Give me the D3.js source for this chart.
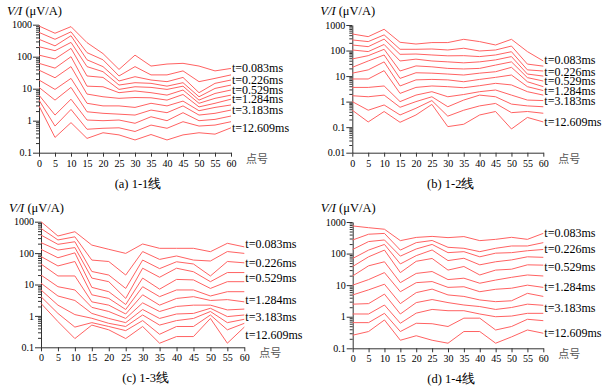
<!DOCTYPE html>
<html lang="zh">
<head>
<meta charset="UTF-8">
<script src="https://d3js.org/d3.v7.min.js"></script>
<style>
  body { margin: 0; background: #fff; }
  text { font-family: "Liberation Serif", "Times New Roman", serif; }
  .cjk { font-family: "Noto Sans CJK SC", sans-serif; }
</style>
</head>
<body>
<div id="plot"></div>
<script>
// point numbers along each line, and the time gates shown at the right
const points = d3.range(0, 61, 5);
const gateLabels = ["t=0.083ms", "t=0.226ms", "t=0.529ms", "t=1.284ms", "t=3.183ms", "t=12.609ms"];
const gateIndex = [0, 2, 4, 6, 8, 11];   // which of the 12 curves carries a label
const majorTicks = [0.01, 0.1, 1, 10, 100, 1000];

// V/I values, one column per point number (0..60), 12 gates top to bottom
const line11 = [
  [910, 575, 350, 205, 112, 62, 38, 18.7, 11, 6.3, 4.4, 2.9],
  [540, 350, 218, 154, 85, 44, 22, 9.5, 4.4, 1.5, 0.68, 0.30],
  [870, 600, 452, 280, 182, 100, 49, 21, 11, 4.7, 2.25, 0.87],
  [275, 134, 80, 49, 25, 12, 6.8, 3.5, 1.9, 1.05, 0.54, 0.28],
  [125, 80, 49, 34, 22.5, 11.5, 5.6, 2.9, 1.7, 1.0, 0.58, 0.42],
  [40, 25, 17.4, 13, 9.5, 7.5, 5, 2.9, 1.6, 1.05, 0.6, 0.36],
  [112, 49, 23.7, 15.4, 11.5, 8.5, 5.3, 2.6, 1.5, 0.83, 0.46, 0.25],
  [51, 27, 18.7, 14.7, 11, 7.5, 5.2, 3.5, 2.15, 1.33, 0.73, 0.37],
  [59, 27, 16.6, 12, 9.5, 6.3, 4.4, 2.9, 1.78, 1.0, 0.58, 0.25],
  [62, 36, 22.5, 15.4, 12, 9.1, 6.6, 4.1, 2.9, 1.78, 0.93, 0.36],
  [51, 16.6, 7.5, 5.6, 4.4, 3.5, 2.7, 2.05, 1.5, 1.0, 0.68, 0.42],
  [36, 21, 14.7, 10.2, 7.1, 5, 3.5, 2.6, 1.7, 1.1, 0.73, 0.38],
  [43, 27, 18.7, 13, 9.1, 6.3, 4.7, 3.1, 2.15, 1.4, 0.93, 0.6]
];
const line12 = [
  [445, 260, 165, 105, 47, 22, 13, 7.7, 3.6, 1.7, 1.0, 0.46],
  [350, 224, 142, 91, 63, 39, 17.5, 7.7, 3.6, 1.55, 0.46, 0.16],
  [680, 410, 280, 173, 112, 67, 36, 16.3, 4.1, 1.8, 0.74, 0.41],
  [210, 112, 71, 39, 15.8, 8.1, 4.1, 2.1, 1.0, 0.6, 0.3, 0.155],
  [180, 112, 73, 46, 25, 13.5, 7.1, 3.6, 1.8, 1.0, 0.55, 0.3],
  [205, 115, 67, 39, 23, 13, 7.4, 4.1, 2.45, 1.55, 1.1, 0.78],
  [205, 105, 62, 36, 20, 12, 7.1, 3.85, 1.55, 0.63, 0.27, 0.105],
  [275, 123, 63, 33, 19, 11, 6, 3.5, 1.9, 1.15, 0.46, 0.13],
  [224, 96, 58, 36, 20, 13, 7.4, 4.2, 2.45, 1.8, 0.68, 0.3],
  [165, 105, 67, 43, 27, 14.8, 8.9, 5.2, 2.85, 1.55, 0.85, 0.41],
  [275, 150, 90, 58, 36, 22, 11, 4.5, 1.8, 0.8, 0.37, 0.085],
  [91, 29.5, 17.5, 12, 8.7, 6, 3.85, 2.45, 1.15, 0.68, 0.41, 0.24],
  [39, 24.5, 15.8, 10, 6.4, 3.85, 2.7, 1.8, 1.1, 0.63, 0.35, 0.16]
];
const line13 = [
  [1000, 610, 375, 215, 132, 78, 45, 20, 11, 6.7, 4.1, 2.5],
  [350, 262, 190, 125, 71, 39, 18.7, 8.5, 4.3, 2.2, 1.2, 0.66],
  [480, 330, 230, 150, 102, 54, 18.7, 6.7, 3.1, 1.1, 0.44, 0.19],
  [180, 60, 26, 16, 8.1, 4.7, 2.8, 1.87, 1.2, 0.84, 0.61, 0.51],
  [132, 54, 20, 12.3, 5.9, 3.6, 2.2, 1.38, 0.83, 0.58, 0.46, 0.36],
  [98, 20, 7.5, 3.6, 2.3, 1.6, 1.15, 0.83, 0.61, 0.46, 0.34, 0.19],
  [195, 112, 60, 33, 16, 8.5, 4.7, 2.6, 1.6, 1.07, 0.71, 0.46],
  [142, 63, 32, 17, 7.1, 4.1, 2.2, 1.38, 0.83, 0.51, 0.26, 0.135],
  [142, 81, 53, 33, 14.5, 6.7, 3.6, 2.0, 1.15, 0.71, 0.46, 0.22],
  [142, 60, 45, 25.5, 14, 6.7, 4.1, 2.2, 1.2, 0.83, 0.46, 0.22],
  [111, 56, 18.7, 12.3, 7.5, 4.3, 3.1, 2.2, 1.75, 1.38, 1.07, 0.83],
  [205, 112, 54, 24, 12.3, 5.9, 3.3, 1.55, 0.95, 0.61, 0.36, 0.135],
  [158, 98, 49, 24, 12.3, 5.9, 2.8, 1.65, 1.07, 0.78, 0.58, 0.44]
];
const line14 = [
  [750, 270, 135, 70, 39, 19.6, 10, 4.9, 2.5, 1.22, 0.65, 0.26],
  [660, 410, 240, 129, 79, 41, 15, 7.1, 2.6, 1.22, 0.65, 0.34],
  [590, 435, 270, 195, 129, 55, 25, 10.7, 5.2, 2.35, 1.28, 0.79],
  [257, 129, 83, 47, 25, 12, 6.2, 2.6, 1.22, 0.62, 0.34, 0.18],
  [325, 222, 140, 86, 57, 23.5, 12, 5.8, 2.8, 1.3, 0.62, 0.25],
  [350, 260, 195, 130, 70, 27, 13, 7.5, 3.5, 1.7, 0.6, 0.18],
  [320, 158, 107, 60, 30, 15, 8.5, 4.9, 2.8, 1.55, 0.49, 0.145],
  [345, 147, 115, 71, 39, 16.6, 8.9, 4.4, 2.35, 1.55, 0.9, 0.34],
  [257, 115, 79, 44, 21, 11.5, 6.2, 3.4, 2.1, 1.22, 0.9, 0.34],
  [282, 147, 103, 55, 30, 14.5, 7.4, 3.0, 1.7, 1.0, 0.38, 0.145],
  [327, 174, 107, 63, 32, 17.7, 8, 3.2, 1.96, 1.05, 0.49, 0.23],
  [282, 174, 123, 79, 44, 21, 10, 5.5, 2.5, 1.28, 0.83, 0.38],
  [437, 222, 135, 76, 43, 19.5, 8.5, 4.4, 2.3, 1.28, 0.75, 0.3]
];

// panel boxes on the page (labelShift nudges the gate labels, in px)
const panels = [
  {data: line11, caption: "(a) 1-1线", left: 39, right: 231, top: 24.7, bottom: 152.7, ymin: 0.1,
   labelShift: [0, 0, 0, 0, 0, 0]},
  {data: line12, caption: "(b) 1-2线", left: 352.3, right: 543.3, top: 25, bottom: 152.7, ymin: 0.01,
   labelShift: [-1, 1, 0, 0, 0, 0]},
  {data: line13, caption: "(c) 1-3线", left: 41, right: 244.3, top: 221.7, bottom: 347.3, ymin: 0.1,
   labelShift: [-3, 0, -4, -2, 2, 8]},
  {data: line14, caption: "(d) 1-4线", left: 352.7, right: 543.3, top: 222, bottom: 348.3, ymin: 0.1,
   labelShift: [0, 0, 2, 0, 3, 0]}
];

const svg = d3.select("#plot").append("svg")
  .attr("width", 609)
  .attr("height", 389);

const red = "#ff6262";
const axisColor = "#333";
const serif = "Liberation Serif, Times New Roman, serif";

panels.forEach(p => {
  const g = svg.append("g");
  const x = d3.scaleLinear().domain([0, 60]).range([p.left, p.right]);
  const y = d3.scaleLog().domain([p.ymin, 1000]).range([p.bottom, p.top]);

  // minor log ticks
  const minors = [];
  majorTicks.filter(t => t >= p.ymin && t < 1000).forEach(t => {
    for (let k = 2; k < 10; k++) minors.push(t * k);
  });
  g.append("g")
    .attr("transform", `translate(${p.left},0)`)
    .call(d3.axisLeft(y).tickValues(minors).tickSize(3).tickFormat(""))
    .call(a => a.select(".domain").remove())
    .call(a => a.selectAll("line").attr("stroke", axisColor));

  // major ticks and labels
  g.append("g")
    .attr("transform", `translate(${p.left},0)`)
    .attr("font-family", serif)
    .attr("font-size", 13.5)
    .call(d3.axisLeft(y).tickValues(majorTicks.filter(t => t >= p.ymin))
      .tickSize(6).tickPadding(1).tickSizeOuter(0)
      .tickFormat(d => d < 1 ? String(d) : d3.format("d")(d)))
    .call(a => a.select(".domain").attr("stroke", axisColor))
    .call(a => a.selectAll("line").attr("stroke", axisColor))
    .call(a => a.selectAll("text").attr("fill", "#000"));

  g.append("g")
    .attr("transform", `translate(0,${p.bottom})`)
    .attr("font-family", serif)
    .attr("font-size", 12.5)
    .call(d3.axisBottom(x).tickValues(points).tickSize(4).tickPadding(3).tickSizeOuter(0))
    .call(a => a.select(".domain").attr("stroke", axisColor))
    .call(a => a.selectAll("line").attr("stroke", axisColor))
    .call(a => a.selectAll("text").attr("fill", "#000"));

  // curves
  const curves = d3.transpose(p.data);
  const line = d3.line().x((d, i) => x(points[i])).y(d => y(d));
  g.selectAll("path.curve")
    .data(curves)
    .join("path")
    .attr("class", "curve")
    .attr("fill", "none")
    .attr("stroke", red)
    .attr("stroke-width", 1)
    .attr("d", line);

  // gate labels at the right end
  g.selectAll("text.gate")
    .data(gateLabels)
    .join("text")
    .attr("class", "gate")
    .attr("x", x(60) + 1)
    .attr("y", (d, i) => y(curves[gateIndex[i]][points.length - 1]) + 4 + p.labelShift[i])
    .attr("font-family", serif)
    .attr("font-size", 12)
    .text(d => d);

  // axis titles
  const t = g.append("text")
    .attr("x", p.left - 32)
    .attr("y", p.top - 10)
    .attr("font-family", serif)
    .attr("font-size", 12.5);
  t.append("tspan").attr("font-style", "italic").text("V/I");
  t.append("tspan").text(" (μV/A)");

  g.append("text")
    .attr("class", "cjk")
    .attr("x", p.right + 15)
    .attr("y", p.bottom + 10)
    .attr("fill", "#555")
    .attr("font-size", 11)
    .text("点号");

  g.append("text")
    .attr("x", (p.left + p.right) / 2 + 3)
    .attr("y", p.bottom + 35)
    .attr("text-anchor", "middle")
    .attr("font-family", serif)
    .attr("font-size", 12.5)
    .text(p.caption);
});
</script>
</body>
</html>
